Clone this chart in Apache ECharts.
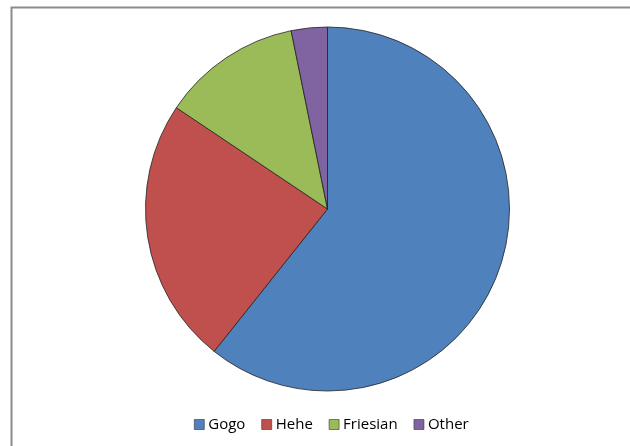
<!DOCTYPE html>
<html>
<head>
<meta charset="utf-8">
<script src="https://cdn.jsdelivr.net/npm/echarts@6/dist/echarts.min.js"></script>
<style>
  html, body { margin: 0; padding: 0; background: #fff; }
  #main { width: 630px; height: 446px; }
</style>
</head>
<body>
<div id="main"></div>
<script>
const categories = ['Gogo', 'Hehe', 'Friesian', 'Other'];
const values = [60.7, 23.7, 12.4, 3.2];
const colors = ['#4F81BD', '#C0504D', '#9BBB59', '#8064A2'];

const chart = echarts.init(document.getElementById('main'));
chart.setOption({
  animation: false,
  graphic: [{
    type: 'rect',
    shape: { x: 11.5, y: 7.5, width: 640, height: 460 },
    style: { fill: 'none', stroke: '#8c8c8c', lineWidth: 2 },
    silent: true
  }],
  legend: {
    data: categories,
    left: 194,
    top: 417,
    padding: 0,
    itemWidth: 10,
    itemHeight: 10,
    itemGap: 16,
    icon: 'rect',
    itemStyle: { borderColor: '#333', borderWidth: 0.6 },
    textStyle: { fontFamily: 'Open Sans', fontSize: 15, color: '#000', padding: [0, 0, 0, -1] }
  },
  series: [{
    type: 'pie',
    center: [327.5, 209],
    radius: 182,
    startAngle: 90,
    clockwise: true,
    label: { show: false },
    labelLine: { show: false },
    emphasis: { disabled: true },
    itemStyle: { borderColor: '#222', borderWidth: 0.8 },
    data: categories.map((c, i) => ({ name: c, value: values[i], itemStyle: { color: colors[i] } }))
  }]
});
</script>
</body>
</html>
